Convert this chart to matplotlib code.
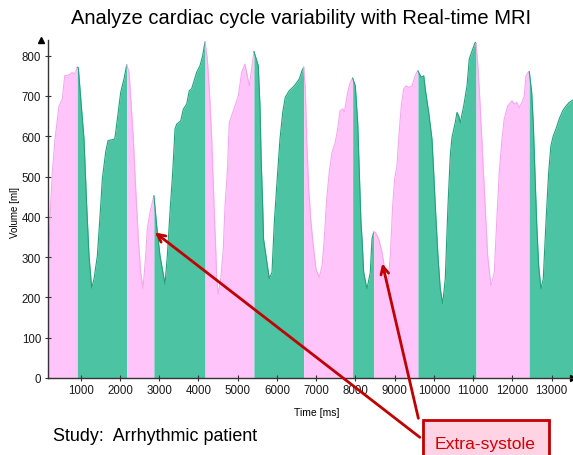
import numpy as np
import matplotlib
matplotlib.use("Agg")
import matplotlib.pyplot as plt
from matplotlib.patches import Rectangle, FancyArrowPatch

plt.rcParams['font.family'] = ['Liberation Sans', 'DejaVu Sans']

# volume curve (time in ms, volume in ml)
time_ms = [150, 186, 230, 278, 346, 448, 532, 594, 700, 780, 850, 915,
           940, 1017, 1085, 1154, 1213, 1281, 1340, 1425, 1510, 1552, 1638, 1697,
           1867, 1893, 1977, 2020, 2104, 2173,
           2232, 2290, 2341, 2403, 2469, 2530, 2589, 2657, 2698, 2767, 2867,
           2937, 3022, 3149, 3208, 3276, 3345, 3404, 3447, 3549, 3615, 3702, 3768,
           3829, 3957, 4041, 4109, 4168,
           4227, 4278, 4339, 4398, 4448, 4466, 4507, 4568, 4634, 4678, 4737, 4787,
           4848, 4932, 5017, 5103, 5187, 5297, 5416,
           5526, 5569, 5600, 5640, 5660, 5722, 5806, 5875, 5934, 6020, 6079, 6148,
           6214, 6316, 6443, 6571, 6640, 6683,
           6724, 6759, 6810, 6869, 6928, 6996, 7081, 7150, 7208, 7268, 7335, 7404,
           7488, 7549, 7608, 7677, 7720, 7804, 7870, 7931,
           7998, 8059, 8100, 8142, 8170, 8211, 8295, 8380, 8423, 8466,
           8507, 8593, 8678, 8762, 8831, 8890, 8950, 9001, 9060, 9103, 9169, 9230,
           9289, 9358, 9442, 9526, 9569, 9595,
           9630, 9681, 9742, 9781, 9868, 9952, 9995, 10036, 10104, 10163, 10224,
           10290, 10359, 10418, 10461, 10545, 10589, 10632, 10673, 10760, 10844,
           10902, 10988, 11055, 11073,
           11116, 11157, 11200, 11243, 11284, 11327, 11371, 11455, 11539, 11600,
           11666, 11735, 11793, 11880, 11990, 12048, 12109, 12175, 12244, 12303,
           12346, 12405, 12431,
           12492, 12532, 12575, 12619, 12670, 12729, 12787, 12856, 12925, 12983,
           13042, 13111, 13195, 13282, 13366, 13450, 13545]
volume_ml = [230, 303, 420, 511, 593, 675, 692, 750, 752, 758, 755, 771,
             770, 675, 593, 427, 303, 223, 246, 303, 427, 494, 561, 589,
             593, 610, 675, 709, 742, 777,
             759, 675, 593, 469, 345, 262, 223, 303, 370, 411, 452,
             378, 303, 233, 303, 411, 511, 618, 630, 638, 667, 680, 713,
             718, 759, 775, 800, 834,
             792, 717, 593, 427, 303, 246, 208, 246, 320, 427, 511, 634,
             651, 675, 700, 759, 779, 725, 810,
             775, 675, 540, 420, 345, 303, 247, 262, 386, 511, 593, 659,
             697, 713, 725, 742, 763, 771,
             717, 593, 469, 386, 328, 270, 250, 278, 345, 444, 511, 560,
             585, 618, 663, 668, 660, 709, 734, 744,
             725, 634, 511, 386, 345, 262, 221, 262, 345, 362,
             362, 345, 312, 262, 237, 303, 427, 494, 527, 593, 675, 717,
             725, 721, 725, 750, 759, 762,
             755, 746, 750, 717, 659, 593, 511, 427, 303, 221, 184,
             246, 427, 552, 597, 634, 659, 651, 634, 675, 725,
             792, 816, 833, 830,
             783, 717, 634, 552, 469, 386, 303, 229, 262, 386,
             511, 593, 643, 675, 688, 680, 684, 671, 684, 700,
             750, 759, 760,
             709, 634, 511, 386, 279, 221, 246, 386, 511, 577,
             601, 618, 643, 663, 675, 684, 690]

# colour bands: start time of each band and its phase
band_starts = [150, 915, 2173, 2867, 4168, 5416, 6683, 7931, 8466, 9595, 11073, 12431]
band_phase = ["pink", "green", "pink", "green", "pink", "green",
              "pink", "green", "pink", "green", "pink", "green"]

x_ticks = [1000, 2000, 3000, 4000, 5000, 6000, 7000, 8000, 9000, 10000, 11000, 12000, 13000]
y_ticks = [0, 100, 200, 300, 400, 500, 600, 700, 800]

fills = {"green": ("#4cc4a3", "#23a07a"), "pink": ("#ffc4fa", "#f3a8ef")}

W, H = 573, 456
fig = plt.figure(figsize=(W / 100, H / 100), dpi=100)
ax = fig.add_axes([47.5 / W, 77 / H, (W - 47.5) / W, (379 - 40.5) / H])

t = np.array(time_ms)
v = np.array(volume_ml)
band_ends = band_starts[1:] + [time_ms[-1]]
for a, b, phase in zip(band_starts, band_ends, band_phase):
    m = (t >= a) & (t <= b)
    face, edge = fills[phase]
    ax.fill_between(t[m], 0, v[m], color=face, lw=0)
    ax.plot(t[m], v[m], color=edge, lw=0.8)

ax.set_xlim(155, 13545)
ax.set_ylim(0, 840)
ax.set_xticks(x_ticks)
ax.set_yticks(y_ticks)
ax.tick_params(direction="inout", length=5, width=0.8, colors="#333333",
               labelsize=8.3, labelcolor="#1a1a1a", pad=2)
for s in ["top", "right"]:
    ax.spines[s].set_visible(False)
for s in ["left", "bottom"]:
    ax.spines[s].set_color("#333333")
    ax.spines[s].set_linewidth(1.0)
ax.plot(1, 0, ">", color="black", ms=5, transform=ax.get_yaxis_transform(), clip_on=False)
ax.plot(0, 1, "^", color="black", ms=5, transform=ax.get_xaxis_transform(), clip_on=False)

fig.text(301 / W, 1 - 18 / H, "Analyze cardiac cycle variability with Real-time MRI",
         ha="center", va="center", fontsize=14.5)
fig.text(15 / W, 1 - 213 / H, "Volume [ml]", rotation=90, ha="center", va="center", fontsize=7)
fig.text(317 / W, 1 - 413 / H, "Time [ms]", ha="center", va="center", fontsize=7.5)
fig.text(53 / W, 1 - 436.5 / H, "Study:  Arrhythmic patient", ha="left", va="center", fontsize=12.9)

# extra-systole callout
fig.patches.append(Rectangle((423 / W, -0.01), 126 / W, (456 - 421) / H + 0.01,
                             transform=fig.transFigure, facecolor="#ffd3e4",
                             edgecolor="#c00000", lw=2, zorder=5))
fig.text(485 / W, 1 - 445 / H, "Extra-systole", ha="center", va="center",
         fontsize=12.6, color="#d00000", zorder=6)
for tip, tail in [((152.7, 231.7), (422, 440)), ((381.7, 261.7), (419, 422))]:
    fig.add_artist(FancyArrowPatch(
        (tail[0] / W, 1 - tail[1] / H), (tip[0] / W, 1 - tip[1] / H),
        transform=fig.transFigure, arrowstyle="->", mutation_scale=14,
        color="#c00000", lw=2, zorder=4))

fig.savefig("out.png", dpi=100)
